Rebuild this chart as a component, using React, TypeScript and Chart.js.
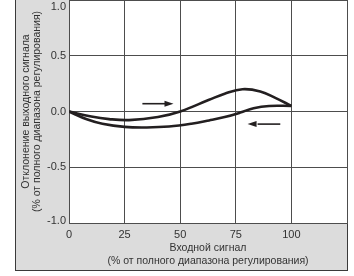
import { useEffect, useRef } from 'react';
import { Chart, registerables } from 'chart.js';

Chart.register(...registerables);

// ---- data ----
const xTickValues = [0, 25, 50, 75, 100];
const yTickValues = [-1.0, -0.5, 0.0, 0.5, 1.0];

// upward stroke (arrow to the right)
const increasingX = [0, 10, 18, 27, 40, 50, 63, 70, 78, 86, 93, 100];
const increasingY = [0, -0.045, -0.068, -0.077, -0.05, 0.0, 0.105, 0.16, 0.2, 0.18, 0.12, 0.05];

// downward stroke (arrow to the left), listed left to right
const decreasingX = [0, 8, 15, 25, 35, 45, 55, 63, 70, 77, 83, 90, 100];
const decreasingY = [0, -0.07, -0.11, -0.138, -0.143, -0.135, -0.11, -0.08, -0.05, -0.01, 0.03, 0.05, 0.05];

// arrows: [tail, head]
const arrowRightX = [33, 47];
const arrowRightY = [0.07, 0.07];
const arrowLeftX = [95, 80.3];
const arrowLeftY = [-0.113, -0.113];

const xTitle = ['Входной сигнал', '(% от полного диапазона регулирования)'];
const yTitle = ['Отклонение выходного сигнала', '(% от полного диапазона регулирования)'];

const INK = '#231f20';
const TEXT = '#333333';
const GRID = '#4d4d4d';
const PANEL = '#dcdcdc';
const TICK_FONT = "'Liberation Sans Narrow', 'Liberation Sans', Arial, sans-serif";
const TITLE_FONT = "'Liberation Sans', Arial, sans-serif";

const panelPlugin = {
  id: 'panel',
  beforeDraw(chart: any) {
    const { ctx, chartArea } = chart;
    ctx.save();
    ctx.fillStyle = PANEL;
    ctx.fillRect(15, 0, chartArea.right - 15, 270);
    ctx.fillStyle = '#ffffff';
    ctx.fillRect(chartArea.left, chartArea.top, chartArea.right - chartArea.left, chartArea.bottom - chartArea.top);
    ctx.strokeStyle = '#3a3a3a';
    ctx.lineWidth = 1;
    ctx.strokeRect(15.5, -1, chartArea.right - 15, 271.5);
    ctx.restore();
  },
};

const yLabelPlugin = {
  id: 'yLabels',
  afterDraw(chart: any) {
    const { ctx, chartArea } = chart;
    const scale = chart.scales.y;
    ctx.save();
    ctx.fillStyle = TEXT;
    ctx.font = `11px ${TICK_FONT}`;
    ctx.textAlign = 'right';
    ctx.textBaseline = 'middle';
    scale.ticks.forEach((t: any) => {
      let py = scale.getPixelForValue(t.value);
      py = Math.max(chartArea.top + 7, Math.min(chartArea.bottom - 2.5, py));
      ctx.fillText(t.value.toFixed(1), chartArea.left - 3, py);
    });
    ctx.restore();
  },
};

function drawArrow(chart: any, xs: number[], ys: number[]) {
  const { ctx } = chart;
  const sx = chart.scales.x;
  const sy = chart.scales.y;
  const x0 = sx.getPixelForValue(xs[0]);
  const y0 = sy.getPixelForValue(ys[0]);
  const x1 = sx.getPixelForValue(xs[1]);
  const y1 = sy.getPixelForValue(ys[1]);
  const ang = Math.atan2(y1 - y0, x1 - x0);
  const headLen = 9;
  const headHalf = 3;
  const bx = x1 - headLen * Math.cos(ang);
  const by = y1 - headLen * Math.sin(ang);
  ctx.save();
  ctx.strokeStyle = INK;
  ctx.fillStyle = INK;
  ctx.lineWidth = 1.6;
  ctx.beginPath();
  ctx.moveTo(x0, y0);
  ctx.lineTo(bx + 1, by);
  ctx.stroke();
  ctx.beginPath();
  ctx.moveTo(x1, y1);
  ctx.lineTo(bx - headHalf * Math.sin(ang), by - headHalf * Math.cos(ang));
  ctx.lineTo(bx + headHalf * Math.sin(ang), by + headHalf * Math.cos(ang));
  ctx.closePath();
  ctx.fill();
  ctx.restore();
}

const arrowPlugin = {
  id: 'arrows',
  afterDatasetsDraw(chart: any) {
    drawArrow(chart, arrowRightX, arrowRightY);
    drawArrow(chart, arrowLeftX, arrowLeftY);
  },
};

export default function App() {
  const canvasRef = useRef<HTMLCanvasElement | null>(null);

  useEffect(() => {
    if (!canvasRef.current) return;
    const chart = new Chart(canvasRef.current, {
      type: 'scatter',
      data: {
        datasets: [
          {
            data: increasingX.map((x, i) => ({ x, y: increasingY[i] })),
            showLine: true,
            borderColor: INK,
            borderWidth: 2.6,
            pointRadius: 0,
            tension: 0.4,
            fill: false,
          },
          {
            data: decreasingX.map((x, i) => ({ x, y: decreasingY[i] })),
            showLine: true,
            borderColor: INK,
            borderWidth: 2.6,
            pointRadius: 0,
            tension: 0.4,
            fill: false,
          },
        ],
      },
      options: {
        animation: false,
        responsive: false,
        devicePixelRatio: 1,
        layout: { padding: { left: 0, right: 7, top: 0, bottom: 0 } },
        plugins: { legend: { display: false }, tooltip: { enabled: false } },
        scales: {
          x: {
            type: 'linear',
            min: 0,
            max: 125,
            afterFit: (s: any) => { s.height = 53; },
            afterBuildTicks: (s: any) => {
              s.ticks = [...xTickValues, 125].map((v) => ({ value: v }));
            },
            grid: { color: GRID, lineWidth: 1, drawTicks: false },
            border: { color: GRID, width: 1 },
            ticks: {
              color: TEXT,
              font: { family: TICK_FONT, size: 11 },
              padding: 5,
              maxRotation: 0,
              autoSkip: false,
              callback: (v: any) => (xTickValues.includes(Number(v)) ? String(v) : ''),
            },
            title: {
              display: true,
              text: xTitle,
              color: TEXT,
              font: { family: TITLE_FONT, size: 10.5, lineHeight: '13px' },
              padding: { top: 0, bottom: 8.5 },
            },
          },
          y: {
            type: 'linear',
            min: -1,
            max: 1,
            afterFit: (s: any) => { s.width = 69; },
            afterBuildTicks: (s: any) => {
              s.ticks = yTickValues.map((v) => ({ value: v }));
            },
            grid: { color: GRID, lineWidth: 1, drawTicks: false },
            border: { color: GRID, width: 1 },
            ticks: { display: false },
            title: {
              display: true,
              text: yTitle,
              color: TEXT,
              font: { family: TITLE_FONT, size: 10.5, lineHeight: '11px' },
              padding: { top: 20.5, bottom: 0 },
            },
          },
        },
      },
      plugins: [panelPlugin, yLabelPlugin, arrowPlugin],
    } as any);
    return () => chart.destroy();
  }, []);

  return (
    <div style={{ position: 'absolute', left: 0, top: 0, width: 354, height: 276, background: '#fff' }}>
      <canvas ref={canvasRef} width={354} height={276} style={{ display: 'block' }} />
    </div>
  );
}
